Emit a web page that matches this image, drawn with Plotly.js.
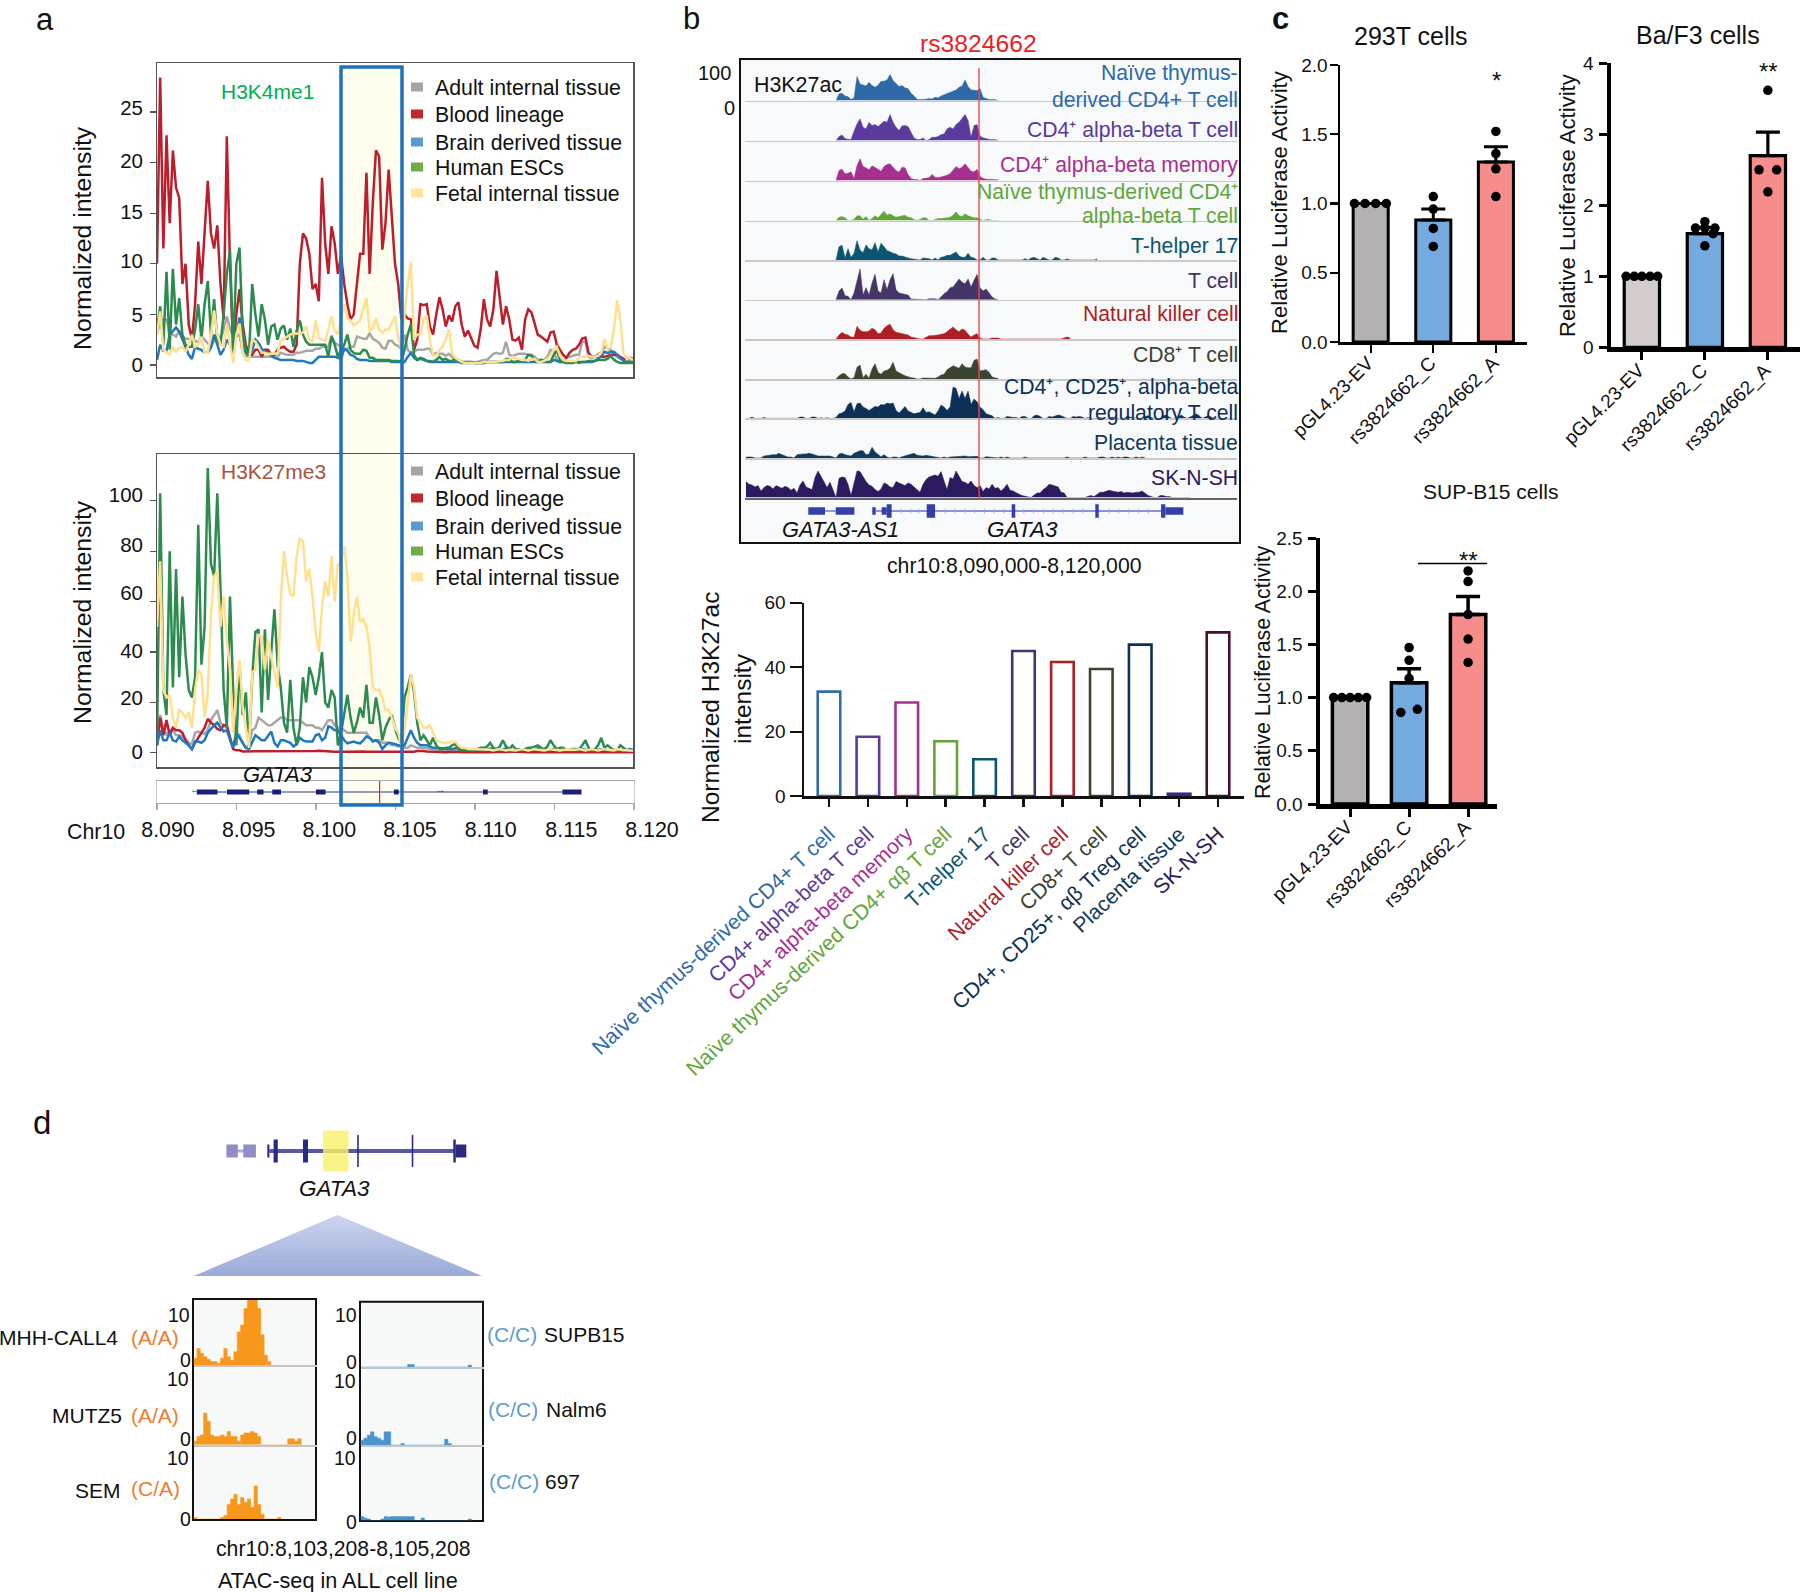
<!DOCTYPE html>
<html><head><meta charset="utf-8">
<script src="https://cdn.plot.ly/plotly-3.0.1.min.js"></script>
<style>html,body{margin:0;padding:0;background:#fff}</style></head>
<body><div id="chart" style="width:1800px;height:1592px"></div>
<script>
// ---------- Panel a: normalized intensity, one value per 0.2 kb from 8.090 Mb ----------
const legendLabels=["Adult internal tissue","Blood lineage","Brain derived tissue","Human ESCs","Fetal internal tissue"];
const a1Adult=[3,4.4,4.5,4.5,3.2,3,2.8,3.4,2.8,2.6,2.6,2.4,2.4,2.2,2.8,2.5,2.2,1.8,2.4,3.1,2.5,3.5,4.8,3.6,2.8,2.8,3,1.2,.9,.8,.8,.8,.8,.8,.8,.8,.8,.8,.8,1.2,1.1,1,1,1,1.2,1.2,1.3,1.4,1.4,1.4,1.6,1.6,1.8,1.8,1.8,2.9,2.2,2,1.7,1.5,1.6,1.8,1.8,2.8,2.7,2.6,2.6,3.1,2.6,2.4,2.2,1.7,1.6,2.4,2.4,2,1.9,1.5,3,1.5,1.2,1.3,1.5,1.5,1.5,1.6,1.6,1,1.2,1.1,1.1,.9,1.1,.8,.5,.4,.3,.3,.3,.3,.3,.3,.4,.5,.5,.8,1.1,1.2,1.1,1.2,2.3,1,.9,1,1.1,1.1,1.1,1,1,.8,.5,.5,.5,.8,1.5,1.3,.5,.3,.3,.7,.8,.9,1,1,2.3,2.3,.8,.7,.8,1.1,1.2,1.8,1.6,1.5,1,.8,.6,.5,.5,.5,.5];
const a1Blood=[10,28.4,11.5,22.7,14,21.2,17.5,16.5,8,10,4,2.5,6,12.2,8,13,18.2,13,11.5,13.8,8,4.5,22.6,10,1.5,5,7.5,4,2,1,1,1.5,1.5,.8,1.5,1.5,1,1,1.5,1.7,1.8,1.5,1.3,1.3,2,10,13,12.5,11,7.5,8,6.3,18.5,12,9,13.7,12,9,10.8,8,6,4.5,5,8,11,11,19,9,16,21.2,20.6,11.4,14,19.3,15,10,8,4.5,5,4.6,4.5,1.5,2.5,6,5.9,6,3.8,3,5,6.7,5.5,3.8,4.9,4.3,5.8,6.2,4,2.8,3.4,2.7,1.9,1.7,3.5,6.5,4.5,3.8,5.5,9.3,6.5,4,5.8,4.5,2.5,2.4,2.7,1.5,4.5,5.5,5.2,4,3,2.8,2.5,2.3,3.2,3.3,2,1.5,1,.7,1.2,1.5,1.6,2,2.6,2.7,1.2,.8,.8,.8,.8,.8,.9,1,1,1,.8,.6,.6,.7,.6];
const a1Brain=[.5,2,1.4,1.4,3,3.4,3.7,3.3,2.5,1.8,1,.6,1.8,1.6,1.5,1.2,1.2,1.7,3,2,1,1.5,2.5,2,1.2,3,4.7,2,1.2,.9,1.5,2.5,2.2,1.6,1.3,1.2,.9,.7,.6,.5,.5,.5,.5,.5,.4,.4,.4,.3,.2,.2,.5,.8,.8,.8,.8,.8,.8,.7,.6,1.6,1.4,1,.9,.6,.5,.5,.5,.4,.4,.4,.4,.4,.4,.4,.3,.3,.3,.3,.3,.8,1.2,.7,.5,.7,.6,.4,.3,.3,.3,.3,.3,.3,.3,.3,.3,.3,.2,.2,.2,.2,.2,.2,.2,.2,.3,.3,.3,.3,.3,.3,.3,.3,.3,.3,.3,.3,.3,.3,.3,.3,.3,.3,.3,.3,.3,.5,.4,.3,.3,.2,.2,.2,.3,.3,.3,.3,.3,.3,.4,.6,.9,1.3,1.2,1.3,1.3,1,.6,.4,.3,.3,.3];
const a1ESC=[3.5,5.8,2,9.2,1.5,9.5,4,6.6,3,2,1.8,1.8,3.5,6,2.5,6,8.3,3,6.5,2.5,2,5,9,11.3,1.5,10,11.6,3.2,1.5,1,8,5,2.8,6,4.5,2,3.8,4,2.5,3.6,3.9,2.5,3.6,1.8,3.4,4.4,3,2.3,2,2,2,2,2,2,.8,2.8,2,.8,1.5,2,3,1.5,1.2,1.1,1.1,1.5,1.4,.7,.7,.5,.5,.5,.5,.5,.4,.4,.4,.3,1.5,3,4,1,.5,.6,.5,.4,.4,.3,.5,.8,.5,.6,.4,.4,.6,.5,.3,.3,.3,.3,.2,.2,.2,.2,.3,.3,.3,.3,.3,.3,.6,.6,.3,.3,.4,.3,.5,1,.9,.5,.3,.5,.4,.3,.3,1,1.4,.5,.3,.2,.3,.3,.3,.2,.3,.3,.4,.4,.4,.5,.5,.5,.6,.9,.5,.3,.2,.2,.2,.2,.2];
const a1Fetal=[3,5.3,1.5,1.2,1,1.8,1.3,1.7,1.8,1.3,2,3,1.8,2,2.8,1.2,1.2,3,5.4,3,2,1.8,4,2,.2,3,4.1,1.2,.5,.5,2.5,2.3,1.8,1.2,1.2,1.1,1.1,1.1,1.2,2.4,2.6,2.8,3,3.1,3.1,3.1,3.2,3.8,2.5,2.3,4.4,2.6,2.5,2.4,3.5,4.8,3.4,3,4.5,6,4.6,4.4,3.9,4.2,4.4,5.5,6.6,3.4,3.6,4.6,3.5,3.2,3.5,3.5,4.2,4.8,2.8,1.5,5,8,10.2,2.5,3,3,4.5,4.9,2.5,1,.9,1.5,1.8,2.5,3.5,1.2,.7,.5,.3,.2,.2,.2,.2,.2,.2,.3,.3,.3,.3,.3,.4,.4,.5,.5,.8,.7,.6,.5,.5,.4,.6,.6,.3,.3,.4,.6,.9,1.5,1.8,.9,.5,.4,.4,.4,.4,.7,.8,.8,.9,.8,.8,.9,1.2,2.6,1.6,1.8,3.5,6.4,4.5,1.2,.6,.7,.5];
const a2Adult=[12,15,10,7,9,9,7,7,6.5,5.5,4,3.5,8,8.5,8,7.5,9,13,15,17,12,11,10,5,2,8,7,4,2,3,9,10,14,13,12,11,11,12,13,14,14,13,13,13,13,13,12,11,11,11,10,10,9,11,13,13,11,10,10,9,8,8,8,8,8,8,8,6,5,5,5,4,4,4,3,3,2.5,2.5,2,2,3,2.5,2,2,2,1.8,1.5,1.5,1.2,1.2,1,1,1,1,1,1,.8,.8,.8,.8,.8,.8,.8,.8,.8,.8,.8,.8,.8,.8,.8,.8,.8,.8,.8,.8,.8,.8,.8,.8,.8,.8,.8,.8,.8,.8,.8,.8,.8,.8,.8,.8,.8,.8,.8,.8,.8,.8,.8,.8,.8,.8,.8,.8,.8,.8,.8,.8,.8,.8,.8];
const a2Blood=[3,14,7,13,7,10,9,9,8,5,3,1.5,4,6,8,10,13.5,12,11,9.5,9,11,11,6,1.5,1,1,.6,.6,.5,.6,.7,.6,.5,.7,.6,.5,.6,.7,.7,.6,.7,.6,.5,.7,.6,.6,.5,.5,.6,.7,.8,.7,.5,.6,.5,.5,.5,.4,.6,.5,.5,.6,.5,.6,.6,.5,.5,.5,.5,.6,.5,.6,.6,.5,.5,.5,.5,.4,.5,.6,.5,.7,.8,.7,.6,.5,.5,.4,.5,.4,.3,.4,.5,.4,.4,.3,.4,.5,.6,.4,.3,.4,.5,.4,.3,.4,.3,.4,.5,.4,.3,.5,.5,.4,.5,.4,.3,.4,.4,.5,.4,.3,.4,.4,.5,.4,.3,.3,.4,.5,.4,.3,.4,.4,.3,.4,.5,.4,.4,.3,.4,.4,.3,.4,.3,.4,.3,.4,.3,.3];
const a2Brain=[3,9,5,5,8,5,4.5,6.5,5,4,3,1.5,4.5,4.5,4,5,8,9.5,11,12,10,8.5,9,5,2,8,6,4,2,1.5,4,7,6,5,5,7,8.5,4,2.5,5,5,4.5,4,2.5,3.5,6,5,4.5,4.5,4.5,7,7.5,5,6,10.5,10,9,9,7,5,3.8,4,4.5,4,3.8,5,6.5,6,4.5,5,4,1.5,3,4,3.8,3.5,3,3,3,6,9,6,4,3,3,3,2.5,2,2,2,1.8,1.5,1.5,1.5,1.8,2,1.5,1.2,1,1,1.2,1.5,1.2,1,1.2,1.8,1.5,1.2,1,1.3,1.8,1.5,1,1.2,1.5,1.3,1,1,1.2,1.5,1.8,1.4,1.2,1,1.3,1.6,1.2,1,.8,1,1.2,1,1,1.2,1.5,1.2,1,1,1,1.2,1.3,1,1,1,1.2,1,1,1,1.1,1.5,1.2];
const a2ESC=[3,103,25,15,80,26,73,30,62,39,25,22,30,90.5,35,50,113,75,70,103,65,25,10,62,25,3,35,15,24,2,30,48,49,16,49,21,40,57,35,26,12,8,29,10,3,10,30,20,34,30,23,30,40,20,18,25,22,3,8,15,23,14,8,12,18,14,27,12,12,22,15,5,10,13,15,10,6,4,22,26,31,24,12,5,7,5,3,6,3,1.5,1.5,2,2,3,3.5,1.5,1,1,1.5,1,1,1.5,2,2,2.5,4,2,1.5,2.5,5,2.5,1.5,3,1.5,1,1,1.5,2,2,2.5,3,2,1.5,2.5,5,3,1.5,2,2,1,1,1.5,1.5,1.5,3,5,2,1,1.5,3,6,2,3,2,1,1,3,2,1,1,.8];
const a2Fetal=[50,76,25,22,23,14,10,17,16,14,16,10,25,33,31,14,24,55,70,72,50,62,45,33,8,25,37,18,10,2,32,33,47,46,33,45,38,32,26,60,80,70,63,62,78,85,84,68,73,62,48,40,58,68,62,78,60,75,75,82,70,44,55,62,52,53,50,42,26,25,25,22,17,17,14,10,8,3,9,20,31,26,14,12,10,10,11,8,5,4.5,4,4,4,4.5,4.5,3,2,2,1.5,1.5,1.5,1.2,1.2,1.5,1.5,1.2,1,1.2,1.5,1.2,1,1.2,1,1,1.2,1.5,1.2,1,1.2,1.5,1.2,1,1,1.2,1.5,1.2,1,1,1.2,1.2,1,1,1.2,1.5,1.2,1,1.2,1.5,1.2,1,1.2,1.5,1.2,1,1,1.5,1.2,1,1,.8,.8];
const aTickLabels=["8.090","8.095","8.100","8.105","8.110","8.115","8.120"];
const aTickVals=[8.09,8.095,8.1,8.105,8.11,8.115,8.12];
const a1YTicks=[0,5,10,15,20,25];
const a1YLabelAt=[0,5,10.3,15.1,20.2,25.4];
const a2YTicks=[0,20,40,60,80,100];
const a2YLabelAt=[.5,21.9,40.6,63.6,82.5,102.4];
const aGeneLine=[8.0933,8.1164];
const aExonStart=[8.0925,8.0944,8.0963,8.09725,8.10,8.1049,8.1105,8.1155];
const aExonEnd=[8.0938,8.0958,8.0967,8.0978,8.1006,8.1052,8.1108,8.1167];
const aSnp=8.104;

// ---------- Panel b: H3K27ac tracks, one value per 0.183 kb ----------
const trackNaiveCD4=[0,20,22,14,12,3,8,72,50,48,44,55,45,40,46,58,58,62,78,60,52,42,45,38,36,22,14,4,3,3,4,6,5,10,8,14,18,22,26,28,32,40,44,62,42,32,30,30,36,10,6,3,3,3,0];
const trackCD4ab=[0,12,17,6,4,3,28,50,65,40,35,55,45,48,42,50,58,55,78,55,40,30,44,45,42,25,8,3,3,8,0,3,10,10,12,18,20,35,40,35,48,55,65,78,60,10,45,48,14,8,6,3,3,3,0];
const trackCD4Mem=[0,30,34,20,22,26,6,45,65,42,38,32,44,40,34,28,42,48,50,40,30,25,40,38,18,6,3,3,0,6,6,8,18,10,8,10,14,16,20,30,42,35,40,50,38,28,26,34,12,6,4,4,2,2,2];
const trackNaiveAB=[0,10,12,8,0,0,3,14,14,4,12,0,6,14,8,18,28,16,20,14,10,12,14,16,10,8,3,0,3,8,8,0,0,3,6,6,6,8,10,16,26,14,12,20,14,10,8,8,3,0,3,3,0,0,0];
const trackTh17=[0,40,44,6,34,8,20,58,30,22,45,34,30,52,24,50,40,28,25,20,18,12,12,8,6,4,2,0,0,6,6,4,0,6,0,8,10,14,14,18,24,12,8,8,20,8,6,0,0,8,0,0,6,6,0,0,0,0,0,0,0,0,0,4,0,6,8,4,0,8,4,0,0,8,6,0,0,3,0,0,0,0,0,0,0,0,0,3];
const trackTcell=[0,26,35,12,10,0,20,60,92,14,36,14,50,76,26,20,60,30,60,78,30,20,18,18,14,2,2,0,0,2,0,3,3,3,0,10,18,24,36,38,50,62,52,48,62,38,58,76,36,26,32,20,8,2,0];
const trackNK=[0,12,20,14,12,6,5,38,26,22,22,24,32,28,16,18,32,40,44,28,20,18,16,14,12,6,4,0,0,0,4,10,10,10,12,14,16,22,28,36,28,22,30,26,14,6,12,16,3,0,0,0,3,3,3,0,0,0,0,0,0,0,0,0,0,0,0,0,0,0,0,0,0,0,0,0,3,6,3];
const trackCD8=[0,10,16,16,6,0,4,35,42,4,14,2,30,46,20,14,24,26,32,50,24,18,14,10,6,4,3,0,0,3,3,3,4,2,6,12,14,28,34,40,36,32,46,36,34,34,56,60,24,26,28,20,6,3,2];
const trackTreg=[0,0,4,0,0,0,3,0,0,0,0,0,0,0,0,0,0,0,4,4,0,0,4,4,0,2,0,2,0,0,3,14,16,22,42,48,20,44,46,34,30,24,30,36,34,42,40,46,44,46,24,16,26,36,22,18,14,16,18,32,18,20,14,10,22,40,34,24,34,94,90,60,82,60,82,42,58,50,34,26,14,12,8,0,3,0,0,6,4,3,3,0,6,6,0,0,8,10,6,0,0,6,4,8,10,8,4,0,0,6,4,6,4,0,3,0,0,0,3,0,0,0,4,0,0,0,0,6,4,0,0,0,0,6,8,3,0,0,0,8,10,4,0,0,6,10,4,0,4,8,14,8,0,4,8,4,0,0,0,0,0,0];
const trackPlacenta=[3,3,3,0,0,0,6,8,8,10,10,14,10,6,3,3,0,10,12,12,12,14,12,8,6,6,6,6,6,3,0,12,14,10,8,6,14,18,22,22,10,12,32,18,10,4,10,3,0,3,3,0,4,6,8,10,14,8,6,6,8,6,4,2,0,0,3,0,3,4,4,6,6,6,4,4,4,5,0,0,4,3,3,3,0,3,0,3,0,0,0,0,0,3,0,0,0,0,0,0,0,0,0,0,0,0,0,3,0,0,0,0,0,3,0,0,0,0,3,3,0,0,3,0,3,0,3,3,0,0,3,0,3,0];
const trackSKNSH=[48,40,38,32,36,20,30,36,34,26,36,32,28,34,30,22,28,14,38,50,32,28,24,60,80,64,46,30,46,22,0,58,62,60,40,6,40,80,78,62,48,38,34,24,18,26,44,40,32,30,48,44,40,36,44,40,32,24,16,40,54,62,66,68,64,78,50,24,60,56,80,62,48,46,40,50,36,30,36,18,30,26,40,28,30,20,28,40,22,20,14,10,6,4,0,0,8,14,14,24,30,40,38,34,32,16,14,0,0,0,0,0,0,0,4,6,3,10,16,16,18,22,20,18,16,18,14,16,14,14,16,16,20,14,6,3,0,0,6,6,3,3,0,0,0,0,0,0,0];
const bTrackLabels=[["Naïve thymus-",73],["derived CD4+ T cell",99],["CD4⁺ alpha-beta T cell",129.5],["CD4⁺ alpha-beta memory",164.6],["Naïve thymus-derived CD4⁺",191.6],["alpha-beta T cell",216.4],["T-helper 17",246],["T cell",280],["Natural killer cell",313.7],["CD8⁺ T cell",354],["CD4⁺, CD25⁺, alpha-beta",387],["regulatory T cell",412.5],["Placenta tissue",443],["SK-N-SH",477]];
const bLabelColorIdx=[0,0,1,2,3,3,4,5,6,7,8,8,9,10];
const bColors=["#2e6aa8","#5a3a9c","#a6308f","#62a63a","#0d5470","#453468","#ad1f24","#3a4530","#0d3057","#0f3a5c","#2c1a5e"];
const bBase=[100.6,140.6,180.5,220.5,260,299.7,339,379,418.4,458,497.6];
// gene model, kb from 8,090,000
const bExonThinStart=[3.86,5.53,7.76,8.33,25.63];
const bExonThinEnd=[4.88,6.67,7.97,8.64,26.73];
const bExonTallStart=[8.64,11.08,16.26,21.36,25.37];
const bExonTallEnd=[8.94,11.59,16.48,21.57,25.63];
const bIntronTicks=[9.5,10.1,10.6,12.2,12.8,13.4,14,14.6,15.2,15.8,17,17.6,18.2,18.8,19.4,20,20.6,22.2,22.8,23.4,24,24.6];
const bSnpKb=14.27;

// ---------- Panel b lower: bar chart ----------
const barLabels=["Naïve thymus-derived CD4+ T cell","CD4+ alpha-beta T cell","CD4+ alpha-beta memory","Naïve thymus-derived CD4+ αβ T cell","T-helper 17","T cell","Natural killer cell","CD8+ T cell","CD4+, CD25+, αβ Treg cell","Placenta tissue","SK-N-SH"];
const barValues=[32.4,18.4,29,17,11.4,45,41.6,39.4,47,0.7,50.8];
const barColors=["#2f6cb0","#5a3a9c","#a6308f","#62a63a","#0d5470","#453468","#b01e24","#3a4530","#0d3057","#3a2a7a","#4a1030"];
const barLabelColors=["#2e6aa8","#5a3a9c","#a6308f","#62a63a","#0d5470","#453468","#ad1f24","#3a4530","#0d3057","#0f3a5c","#2c1a5e"];

// ---------- Panel c: luciferase ----------
const lucCats=["pGL4.23-EV","rs3824662_C","rs3824662_A"];
const t293Val=[1,0.88,1.3], t293Err=[0,0.08,0.11];
const t293DotX=[-.26,-.09,.08,.25,1,1,1,1,2,2,2,2];
const t293DotY=[1,1,1,1,1.05,.96,.82,.69,1.52,1.36,1.25,1.05];
const baf3Val=[1,1.6,2.7], baf3Err=[0,0.09,0.33];
const baf3DotX=[-.25,-.12,0,.13,.25,1,.85,1,1.16,1.13,1,2,1.86,2.14,2];
const baf3DotY=[1,1,1,1,1,1.77,1.68,1.68,1.68,1.6,1.43,3.62,2.5,2.5,2.19];
const supVal=[1,1.14,1.78], supErr=[0,0.13,0.17];
const supDotX=[-.28,-.14,0,.14,.28,1,1,1,.86,1.14,2,2,2,2,2];
const supDotY=[1,1,1,1,1,1.47,1.35,1.18,.86,.89,2.19,2.09,1.78,1.55,1.33];
const lucColors=["#b3b1b1","#74aadd","#f68c8c"], baf3Colors=["#d2cccc","#74aadd","#f68c8c"];

// ---------- Panel d: ATAC-seq, one value per 0.055 kb from 8,103,208 ----------
const atacMHH=[1.4,3.4,2.4,1.7,1.2,.7,.7,.3,1.4,3.4,1.7,1,2.7,6.8,8.2,11.6,13.4,13.4,13.4,11.6,6.2,2,.7,0];
const atacMUTZ5=[.7,1.7,2,6.5,4.8,2,1.7,1.7,2,1.7,2.7,1.7,1.7,.7,2,2.4,2.4,2.7,2.4,1.7,0,0,0,0,0,0,0,0,1.2,1.2,.7,1.2,0];
const atacSEM=[.3,0,0,0,0,0,0,0,.3,.7,3,4.1,5.1,3,4.4,3.4,4.1,2.4,6.8,3,1,0,0,0,0,.3,0];
const atacSUPB15=[0,0,0,0,0,0,0,0,0,0,0,0,0,0,.5,.5,0,0,0,0,0,0,0,0,0,0,0,0,0,0,0,0,.4,0];
const atacNalm6=[1,1.4,2,2.7,1.7,1.4,1,2.7,2.7,0,0,0,.3,0,0,0,0,0,0,0,0,0,0,0,0,1.2,.3,0];
const atac697=[.8,.5,.3,0,0,0,.3,.8,.7,.8,.8,.8,.8,.8,.8,.8,0,0,.5,0,0,0,0,0,0,0,0,0,0,0,0,0,.3,0];

// ---------- Layout helpers ----------
const W=1800,H=1592,FONT="Liberation Sans, Arial, sans-serif";
const data=[],shapes=[],annotations=[];
const layout={width:W,height:H,margin:{l:0,r:0,t:0,b:0,pad:0},paper_bgcolor:"#fff",plot_bgcolor:"rgba(0,0,0,0)",showlegend:false,font:{family:FONT,color:"#111",size:20},hovermode:false,shapes,annotations};
let axN=0;
function axes(r,xo,yo){axN++;const s=axN>1?axN:"";
  layout["xaxis"+s]=Object.assign({domain:[r[0]/W,r[1]/W],anchor:"y"+s,showgrid:false,zeroline:false,showticklabels:false,ticks:"",showline:false},xo||{});
  layout["yaxis"+s]=Object.assign({domain:[1-r[3]/H,1-r[2]/H],anchor:"x"+s,showgrid:false,zeroline:false,showticklabels:false,ticks:"",showline:false},yo||{});
  return {xaxis:"x"+s,yaxis:"y"+s};}
function T(x,y,text,size,color,o){annotations.push(Object.assign({xref:"paper",yref:"paper",x:x/W,y:1-y/H,text,showarrow:false,xanchor:"center",yanchor:"middle",font:{family:FONT,size:size||21,color:color||"#111"},borderpad:0},o||{}));}
function R(x0,y0,x1,y1,fill,line,lw,layer){shapes.push({type:"rect",xref:"paper",yref:"paper",x0:x0/W,x1:x1/W,y0:1-y0/H,y1:1-y1/H,fillcolor:fill||"rgba(0,0,0,0)",line:{color:line||"rgba(0,0,0,0)",width:lw||0},layer:layer||"below"});}
function segs(a,b){const o=[];a.forEach((s,i)=>o.push(s,b[i],null));return o;}
function pairY(a,v){const o=[];a.forEach(()=>o.push(v,v,null));return o;}

// ---------- Panel a ----------
const aColors=["#a6a6a6","#bd1e2c","#1f78c1","#2e8b4f","#ffe08e"];
const grid=n=>Array.from({length:n},(_,i)=>8.09+i*0.0002);
const frame={showline:true,mirror:true,linecolor:"#555",linewidth:1.5};
R(341,67,402,805,"#fffdf0","",0,"below");
function aPanel(rect,yr,tv,labAt,series,name,nameCol,nameX,nameY,rows){
  const a=axes(rect,Object.assign({range:[8.09,8.12]},frame),Object.assign({range:yr,tickvals:tv,ticks:"outside",ticklen:6,tickwidth:1.2,tickcolor:"#555"},frame));
  series.forEach((v,k)=>data.push(Object.assign({x:grid(v.length),y:v,type:"scatter",mode:"lines",line:{color:aColors[k],width:2.5},name:legendLabels[k]},a)));
  const l=axes(rect,{range:[8.09,8.12]},{range:yr,tickvals:labAt,ticktext:tv.map(String),showticklabels:true,tickfont:{size:20.5,color:"#111"},ticklabelstandoff:13});
  data.push(Object.assign({x:[8.09],y:[0],mode:"none"},l));
  T(nameX,nameY,name,21,nameCol);
  const sw=["#a5a5a5","#c1272d","#5b9bd5","#70ad47","#ffe699"];
  rows.forEach((y,k)=>{R(411,y-4.5,423,y+4.5,sw[k],"",0,"above");T(434,y+1,legendLabels[k],21.3,"#111",{xanchor:"left"});});
}
aPanel([157,633,63,377],[-1.19,29.84],a1YTicks,a1YLabelAt,[a1Adult,a1Blood,a1Brain,a1ESC,a1Fetal],"H3K4me1","#00b050",267,92,[87,114,142,167,193]);
aPanel([157,633,454,767],[-5.6,118.6],a2YTicks,a2YLabelAt,[a2Adult,a2Blood,a2Brain,a2ESC,a2Fetal],"H3K27me3","#a9523f",273,471,[471,498,526,551,577]);
T(82,238,"Normalized intensity",24.8,"#111",{textangle:-90});
T(82,612,"Normalized intensity",24.8,"#111",{textangle:-90});
T(277.5,774,"<i>GATA3</i>",22);
// gene track
const ga=axes([157,634,781,803],{range:[8.09,8.12],showline:true,linecolor:"#aaa",linewidth:1.2,mirror:true,tickvals:aTickVals,ticks:"outside",ticklen:6,tickwidth:1.2,tickcolor:"#aaa"},{range:[0,1],showline:true,linecolor:"#ccc",linewidth:1,mirror:true});
data.push(Object.assign({x:aGeneLine,y:[.5,.5],mode:"lines",line:{color:"#35357f",width:1.2}},ga));
data.push(Object.assign({x:segs(aExonStart,aExonEnd),y:pairY(aExonStart,.5),mode:"lines",line:{color:"#1b1b78",width:5}},ga));
data.push(Object.assign({x:[aSnp,aSnp],y:[0,1.05],mode:"lines",line:{color:"#e03020",width:1.2},cliponaxis:false},ga));
T(195,789,"←",11,"#444");T(440,789,"→",11,"#444");
const gl=axes([168,652,813,815],{range:[8.09,8.12],tickvals:aTickVals,ticktext:aTickLabels,showticklabels:true,tickfont:{size:21.4,color:"#111"},ticks:"",ticklabelstandoff:0},{range:[0,1]});
data.push(Object.assign({x:[8.09,8.12],y:[0,0],mode:"none"},gl));
T(96,832,"Chr10",21.4);
R(341,67,402,805,"","#1f73bd",3.5,"above");

// ---------- Panel b tracks ----------
R(740,59,1240,543,"#f7f9fa","#111",2,"below");
const BIN=0.183;
const tracks=[[trackNaiveCD4,5.55],[trackCD4ab,5.55],[trackCD4Mem,5.55],[trackNaiveAB,5.55],[trackTh17,5.55],[trackTcell,5.55],[trackNK,5.55],[trackCD8,5.55],[trackTreg,0.06],[trackPlacenta,0.06],[trackSKNSH,0.06]];
tracks.forEach((t,k)=>{const b=bBase[k];
  const a=axes([745,1237,b-39.6,b],{range:[0,30],showline:true,linecolor:k==10?"#666":"#c8c8c8",linewidth:k==10?2:1.5},{range:[0,118.8]});
  data.push(Object.assign({x:t[0].map((_,i)=>t[1]+i*BIN),y:t[0],mode:"lines",fill:"tozeroy",fillcolor:bColors[k],line:{color:bColors[k],width:.5}},a));
});
const snp=axes([745,1237,68,499],{range:[0,30]},{range:[0,1]});
data.push(Object.assign({x:[bSnpKb,bSnpKb],y:[0,1],mode:"lines",line:{color:"#f04848",width:1.4}},snp));
const gb=axes([745,1237,498,524],{range:[0,30]},{range:[0,1]});
data.push(Object.assign({x:[4.88,5.53,null,7.97,25.4],y:[.5,.5,null,.5,.5],mode:"lines",line:{color:"#6a70c4",width:1.4}},gb));
data.push(Object.assign({x:bIntronTicks,y:bIntronTicks.map(()=>.5),mode:"markers",marker:{symbol:"line-ns",size:3.5,line:{color:"#9a9fd8",width:.8}}},gb));
data.push(Object.assign({x:segs(bExonThinStart,bExonThinEnd),y:pairY(bExonThinStart,.5),mode:"lines",line:{color:"#3340a8",width:7.5}},gb));
data.push(Object.assign({x:segs(bExonTallStart,bExonTallEnd),y:pairY(bExonTallStart,.5),mode:"lines",line:{color:"#3340a8",width:13.5}},gb));
T(978,44,"rs3824662",24.7,"#ee1c25");
T(714,73,"100",20);T(729,108,"0",20);
T(798,85,"H3K27ac",21.4);
bTrackLabels.forEach((l,i)=>T(1239,l[1],l[0],21.2,bColors[bLabelColorIdx[i]],{xanchor:"right"}));
T(840,529,"<i>GATA3-AS1</i>",21.9);T(1022,529,"<i>GATA3</i>",22.5);
T(1014,565,"chr10:8,090,000-8,120,000",21.2);

// ---------- Bar chart ----------
const bIdx=barValues.map((_,i)=>i);
const bb=axes([804,1244,602.7,796],{range:[-0.642,10.668],showline:true,linecolor:"#111",linewidth:2.5,tickvals:bIdx,ticktext:barLabels.map((l,i)=>`<span style="color:${barLabelColors[i]}">${l}</span>`),showticklabels:true,tickangle:-43,ticks:"outside",ticklen:8,tickwidth:2.5,tickcolor:"#111",tickfont:{size:21.2},ticklabelstandoff:7},
 {range:[0,60],tickvals:[0,20,40,60],showline:true,linecolor:"#111",linewidth:2.5,showticklabels:true,ticks:"outside",ticklen:12,tickwidth:2,tickcolor:"#111",tickfont:{size:19}});
data.push(Object.assign({x:bIdx,y:barValues,type:"bar",width:.58,marker:{color:"#fff",line:{color:barColors,width:2.6}}},bb));
T(710,707,"Normalized H3K27ac",24.5,"#111",{textangle:-90});
T(742,699,"intensity",24.5,"#111",{textangle:-90});

// ---------- Panel c ----------
function lucPanel(rect,xr,ymax,tv,tt,vals,errs,dx,dy,cols,lw,bw,axisW,tickW,tickL,yStand){
  const a=axes(rect,{range:xr,showline:true,linecolor:"#000",linewidth:axisW,tickvals:[0,1,2],ticktext:lucCats,showticklabels:true,tickangle:-45,ticks:"outside",ticklen:8,tickwidth:tickW,tickcolor:"#000",tickfont:{size:19,color:"#111"},ticklabelstandoff:-8,ticklabelshift:-3},
    {range:[0,ymax],tickvals:tv,ticktext:tt,showline:true,linecolor:"#000",linewidth:axisW,showticklabels:true,ticks:"outside",ticklen:tickL,tickwidth:tickW,tickcolor:"#000",tickfont:{size:19,color:"#111"},ticklabelstandoff:yStand});
  data.push(Object.assign({x:[0,1,2],y:vals,type:"bar",width:bw,marker:{color:cols,line:{color:"#000",width:lw}},error_y:{type:"data",symmetric:false,array:errs,arrayminus:[0,0,0],color:"#000",thickness:lw,width:12}},a));
  data.push(Object.assign({x:dx,y:dy,type:"scatter",mode:"markers",marker:{color:"#000",size:9.5},cliponaxis:false},a));
  return a;
}
lucPanel([1340,1527,65,342],[-.49,2.497],2,[0,.5,1,1.5,2],["0.0","0.5","1.0","1.5","2.0"],t293Val,t293Err,t293DotX,t293DotY,lucColors,3,.56,2.5,2.2,8,-2);
lucPanel([1611,1800,63.3,347.3],[-.49,2.51],4,[0,1,2,3,4],["0","1","2","3","4"],baf3Val,baf3Err,baf3DotX,baf3DotY,baf3Colors,3.2,.56,4.5,3,8,1);
const sup=lucPanel([1320,1497,538,804],[-.51,2.49],2.5,[0,.5,1,1.5,2,2.5],["0.0","0.5","1.0","1.5","2.0","2.5"],supVal,supErr,supDotX,supDotY,lucColors,3.5,.6,4.5,3,8,1);
data.push(Object.assign({x:[1.15,2.32],y:[2.26,2.26],mode:"lines",line:{color:"#000",width:1.4},cliponaxis:false},sup));
T(1411,36,"293T cells",25);T(1698,35,"Ba/F3 cells",25);T(1490,491,"SUP-B15 cells",21);
T(1280,203,"Relative Luciferase Activity",22.1,"#111",{textangle:-90});
T(1567,206,"Relative Luciferase Activity",22.1,"#111",{textangle:-90});
T(1263,672,"Relative Luciferase Activity",21.3,"#111",{textangle:-90});
T(1496,81,"*",24);T(1768,72,"**",24);T(1468,560,"**",24);

// ---------- Panel d ----------
const gd=axes([190,470,1130,1172],{range:[190,470]},{range:[0,1]});
data.push(Object.assign({x:[230,245],y:[.5,.5],mode:"lines",line:{color:"#b0aed8",width:3}},gd));
data.push(Object.assign({x:[226.4,237.8,null,243.3,255.9],y:[.5,.5,null,.5,.5],mode:"lines",line:{color:"#8f8cc8",width:13}},gd));
data.push(Object.assign({x:[269.4,454.5],y:[.5,.5],mode:"lines",line:{color:"#5858a8",width:4}},gd));
data.push(Object.assign({x:[267.3,269.4,null,455.8,466.3],y:[.5,.5,null,.5,.5],mode:"lines",line:{color:"#2a2a80",width:13}},gd));
data.push(Object.assign({x:[273.6,277.8,null,303,308,null,453.3,455.8],y:[.5,.5,null,.5,.5,null,.5,.5],mode:"lines",line:{color:"#2a2a80",width:23}},gd));
data.push(Object.assign({x:[358,412.5],y:[.5,.5],mode:"markers",marker:{symbol:"line-ns",size:23,line:{color:"#2a2a80",width:1.6}}},gd));
data.push(Object.assign({x:[323,348.5],y:[.5,.5],mode:"lines",line:{color:"rgba(248,240,110,.82)",width:41},cliponaxis:false},gd));
T(334.6,1188,"<i>GATA3</i>",22.5);
const tri=axes([193,483,1215,1277],{range:[193,483]},{range:[1277,1215]});
data.push(Object.assign({x:[193.6,337.5,482,193.6],y:[1276,1215,1276,1276],mode:"none",fill:"toself",fillcolor:"#b3bfe2",fillgradient:{type:"vertical",colorscale:[[0,"#9aaad8"],[1,"#ccd5ee"]]}},tri));
R(193,1299,316,1520,"#f7f9f9","#111",2,"below");
R(360,1301.7,483,1521,"#f7f9f9","#111",2,"below");
function atac(left,base,top,vals,col,line){
  const a=axes([left,left+123,top,base],{range:[8.103208,8.105208],showline:line,linecolor:"#c4c4c4",linewidth:2},{range:[0,(base-top)/4.87]});
  const step=0.0000547,s=8.103208;
  data.push(Object.assign({x:vals.map((_,i)=>s+i*step),y:vals,mode:"lines",line:{shape:"hv",color:col,width:.5},fill:"tozeroy",fillcolor:col},a));
}
atac(193.5,1365,1300,atacMHH,"#f7971c",true);
atac(193.5,1444.7,1366,atacMUTZ5,"#f7971c",true);
atac(193.5,1519,1446,atacSEM,"#f7971c",false);
atac(360.5,1367,1303,atacSUPB15,"#4a94d0",true);
atac(360.5,1445,1368,atacNalm6,"#4a94d0",true);
atac(360.5,1520.5,1446,atac697,"#4a94d0",false);
[[179,1315,"10"],[185,1360,"0"],[178,1379,"10"],[185,1439,"0"],[178,1458,"10"],[185,1519,"0"],[346,1315,"10"],[351,1362,"0"],[345,1381,"10"],[351,1438,"0"],[345,1458,"10"],[351,1522,"0"]].forEach(l=>T(l[0],l[1],l[2],19.5));
T(119,1337,"MHH-CALL4",21,"#111",{xanchor:"right"});T(155,1337,"(A/A)",21,"#ed7d31");
T(123,1415,"MUTZ5",21,"#111",{xanchor:"right"});T(155,1415,"(A/A)",21,"#ed7d31");
T(122,1490,"SEM",21,"#111",{xanchor:"right"});T(155,1488,"(C/A)",21,"#ed7d31");
T(512,1334,"(C/C)",21,"#5b9bd5");T(543,1334,"SUPB15",21,"#111",{xanchor:"left"});
T(513,1409,"(C/C)",21,"#5b9bd5");T(545,1409,"Nalm6",21,"#111",{xanchor:"left"});
T(514,1481,"(C/C)",21,"#5b9bd5");T(544,1481,"697",21,"#111",{xanchor:"left"});
T(343,1548,"chr10:8,103,208-8,105,208",21.2);
T(337.5,1580,"ATAC-seq in ALL cell line",21.6);

// ---------- Panel letters ----------
T(45,19,"a",31);T(691,18,"b",31);T(1280,18,"<b>c</b>",31);T(42,1122,"d",33);

data.forEach(t=>{if(!t.type)t.type="scatter";t.hoverinfo="skip";});
Plotly.newPlot("chart",data,layout,{displayModeBar:false,staticPlot:true});
</script></body></html>
